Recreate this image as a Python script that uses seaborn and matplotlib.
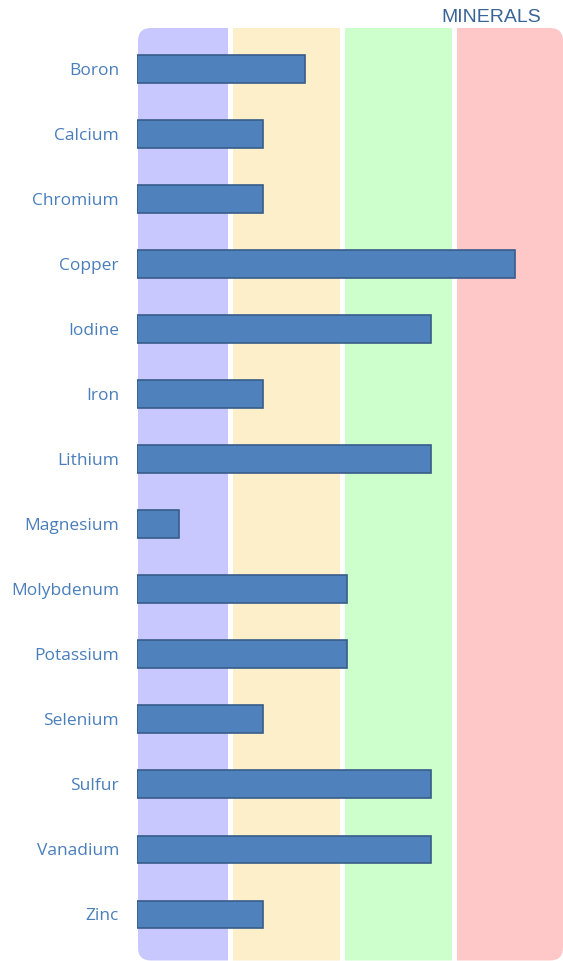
import matplotlib
matplotlib.use("Agg")
import matplotlib.pyplot as plt
import seaborn as sns
import pandas as pd
from matplotlib.patches import FancyBboxPatch

# chart data
minerals = ["Boron", "Calcium", "Chromium", "Copper", "Iodine", "Iron", "Lithium",
            "Magnesium", "Molybdenum", "Potassium", "Selenium", "Sulfur",
            "Vanadium", "Zinc"]
levels = [4, 3, 3, 9, 7, 3, 7, 1, 5, 5, 3, 7, 7, 3]

# background bands (x ranges in value units) and their colours
band_edges = [(0.03, 2.17), (2.29, 4.83), (4.95, 7.50), (7.62, 10.2)]
band_colors = ["#C8C8FF", "#FDEFCA", "#CCFFCC", "#FFC8C8"]

df = pd.DataFrame({"mineral": minerals, "level": levels})

sns.set_theme(style="white")
plt.rcParams["font.family"] = ["Open Sans", "DejaVu Sans"]

W, H = 563, 961
fig = plt.figure(figsize=(W / 100, H / 100), dpi=100)
ax = fig.add_axes([137 / W, 0, (W - 137) / W, (H - 28) / H])

# rounded outline used to clip the bands (in inches so corners stay round)
rounded = FancyBboxPatch((1.38, 0.005), (W - 138) / 100, (H - 28) / 100 - 0.005,
                         boxstyle="round,pad=0,rounding_size=0.13",
                         transform=fig.dpi_scale_trans, facecolor="none",
                         edgecolor="none")
for (x0, x1), c in zip(band_edges, band_colors):
    span = ax.axvspan(x0, x1, color=c, lw=0, zorder=0)
    span.set_clip_path(rounded)

sns.barplot(data=df, x="level", y="mineral", orient="h", width=0.42,
            color="#4F81BD", saturation=1, edgecolor="#385D8A", linewidth=1.2,
            ax=ax, zorder=2)

ax.set_xlim(0, (W - 137) / 42)
ax.set_ylim(13.72, -0.63)
ax.set_xlabel("")
ax.set_ylabel("")
ax.set_xticks([])
for s in ax.spines.values():
    s.set_visible(False)
ax.tick_params(axis="y", length=0, pad=13, labelsize=12.5, labelcolor="#4A7EBB")

fig.text(541 / W, 1 - 17 / H, "MINERALS", ha="right", va="center",
         fontsize=14, color="#3A6496", family=["Liberation Sans", "DejaVu Sans"])

fig.savefig("out.png", dpi=100)
